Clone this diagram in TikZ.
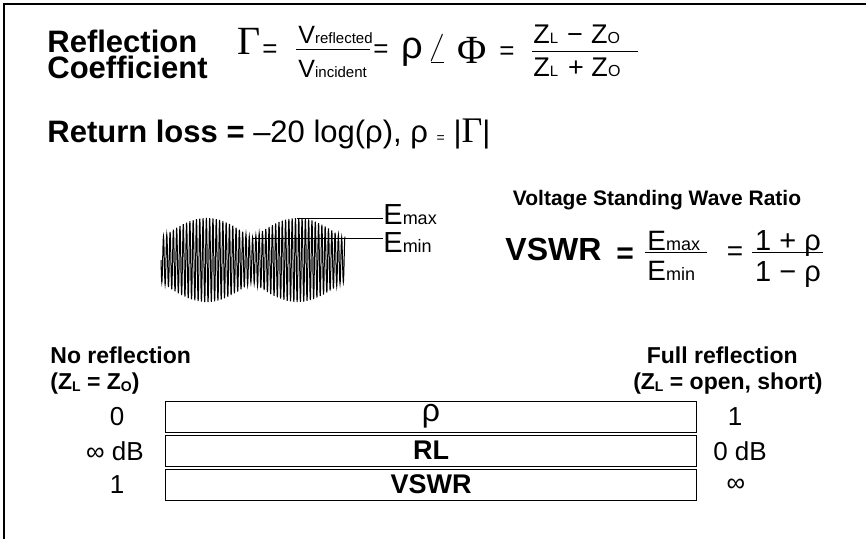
\documentclass[tikz,border=0pt]{standalone}
\usepackage{fontspec}
\setmainfont{Liberation Sans}
\newfontfamily\serifgreek{Liberation Serif}
\newcommand{\fsz}[1]{\fontsize{#1}{#1}\selectfont}
\newcommand{\lowsub}[1]{\raisebox{-2.5pt}{\fsz{14}#1}}

\begin{document}
\begin{tikzpicture}[x=1pt, y=-1pt, line width=0.8pt]
    \tikzset{
        txt/.style={inner sep=0pt, anchor=base west},
        mid/.style={inner sep=0pt, anchor=base},
        rangebox/.style={draw, line width=0.7pt, minimum width=531pt, minimum height=31pt, inner sep=0pt}
    }
    \useasboundingbox (0,0) rectangle (866,539);
    \draw[line width=2pt] (4,539) -- (4,4) -- (866,4);

    % reflection coefficient
    \node[inner sep=0pt, anchor=north west, align=left, font=\fontsize{31}{26}\selectfont\bfseries] (title) at (47,30) {Reflection\\Coefficient};
    \node[txt, font=\fsz{40}\serifgreek] (gam) at (237,54) {Γ};
    \node[mid, font=\fsz{26}] (eq1) at (270,57) {=};
    \draw (296,49) -- (370,49);
    \node[txt, font=\fsz{25}] (vref) at (298,43) {V{\fsz{15}reflected}};
    \node[txt, font=\fsz{25}] (vinc) at (298,77) {V{\fsz{15}incident}};
    \node[mid, font=\fsz{26}] (eq2) at (381,57) {=};
    \node[txt, font=\fsz{38}] (rho) at (401,58) {ρ};
    \node[txt] (ang) at (427,63) {\resizebox{20pt}{28pt}{$\angle$}};
    \node[txt, font=\fsz{40}\serifgreek] (phi) at (457,63) {Φ};
    \node[mid, font=\fsz{26}] (eq3) at (507,59) {=};
    \draw (532,51) -- (638,51);
    \node[txt, font=\fsz{27}] (zdiff) at (533,43) {Z{\fsz{15}L}\hspace{9pt}−\hspace{8pt}Z{\fsz{16}O}};
    \node[txt, font=\fsz{27}] (zsum) at (533,76) {Z{\fsz{15}L}\hspace{10pt}+ Z{\fsz{16}O}};

    % return loss
    \node[txt, font=\fsz{31}] (rloss) at (47,142) {\textbf{Return loss =} –20 log(ρ), ρ {\fsz{14}=} |{\serifgreek\fsz{36}Γ}|};

    % standing wave
    \draw[line width=1pt] plot[variable=\t, domain=0:55.76, samples=893]
        ({161+3.3*\t}, {260+(22+20*abs(sin(6.527*\t)))*sin(360*(\t-floor(\t)))});
    \node[txt, font=\fsz{29}] (emax) at (383,224) {E{\fsz{18}max}};
    \node[txt, font=\fsz{29}] (emin) at (383,252) {E{\fsz{18}min}};
    \coordinate (hump) at (297,218);
    \coordinate (notch) at (252,238);
    \draw[line width=0.6pt] (hump) -- (hump -| emax.west);
    \draw[line width=0.6pt] (notch) -- (notch -| emin.west);

    % VSWR
    \node[mid, font=\fsz{21}\bfseries] (vswrtitle) at (657,205) {Voltage Standing Wave Ratio};
    \node[txt, font=\fsz{32}\bfseries] (vswr) at (505,260) {VSWR};
    \node[mid, font=\fsz{30}\bfseries] (eq4) at (625,263) {=};
    \draw (645,252) -- (707,252);
    \node[txt, font=\fsz{28}] (efmax) at (647,250) {E{\fsz{18}max}};
    \node[txt, font=\fsz{28}] (efmin) at (647,280) {E{\fsz{18}min}};
    \node[mid, font=\fsz{28}] (eq5) at (735,260) {=};
    \draw (752,252) -- (823,252);
    \node[mid, font=\fsz{29}] (num) at (788,250) {1 + ρ};
    \node[mid, font=\fsz{29}] (den) at (788,281) {1 − ρ};

    % scales
    \node[font=\fsz{23}\bfseries, anchor=base west, inner sep=0pt] (noref) at (50,363) {No reflection};
    \node[font=\fsz{23}\bfseries, anchor=base west, inner sep=0pt] (noz) at (50,389) {(Z\lowsub{L} = Z\lowsub{O})};
    \node[font=\fsz{23}\bfseries, anchor=base east, inner sep=0pt] (fullref) at (798,363) {Full reflection};
    \node[font=\fsz{23}\bfseries, anchor=base east, inner sep=0pt] (fullz) at (823,389) {(Z\lowsub{L} = open, short)};

    \node[rangebox, font=\fsz{32}] (rhobox) at (431,416.5) {\smash{\raisebox{-5pt}{ρ}}};
    \node[rangebox, font=\fsz{27}\bfseries] (rlbox) at (431,450.5) {RL};
    \node[rangebox, font=\fsz{27}\bfseries] (vswrbox) at (431,484.5) {VSWR};

    \node[font=\fsz{26}] (rholo) at (117,417) {0};
    \node[font=\fsz{26}] (rllo) at (115,451) {∞ dB};
    \node[font=\fsz{26}] (vswrlo) at (117,485) {1};
    \node[font=\fsz{26}] (rhohi) at (735,417) {1};
    \node[font=\fsz{26}] (rlhi) at (740,451) {0 dB};
    \node[font=\fsz{26}] (vswrhi) at (736,485) {∞};
\end{tikzpicture}
\end{document}
